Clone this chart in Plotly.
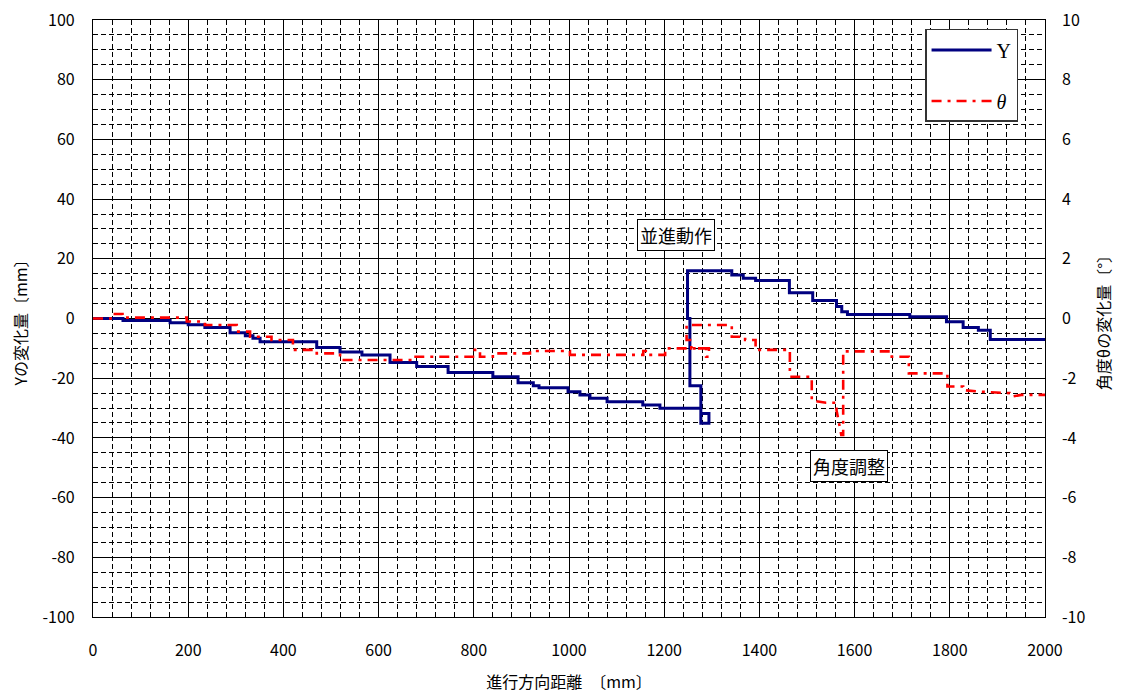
import plotly.graph_objects as go

# ---- data ----
y_dist = [0, 63, 63, 162, 162, 200, 200, 235, 235, 288, 288, 320, 320, 336, 336, 351, 351, 470, 470, 519,
          519, 565, 565, 624, 624, 680, 680, 746, 746, 840, 840, 893, 893, 925, 925, 937, 937, 998, 998, 1023,
          1023, 1044, 1044, 1080, 1080, 1155, 1155, 1191, 1191, 1277, 1277, 1294, 1294, 1277, 1277, 1254, 1254,
          1249, 1249, 1342, 1342, 1366, 1366, 1392, 1392, 1463, 1463, 1512, 1512, 1562, 1562, 1573, 1573, 1585,
          1585, 1716, 1716, 1793, 1793, 1828, 1828, 1860, 1860, 1885, 1885, 2000]
y_val = [0, 0, -0.7, -0.7, -1.4, -1.4, -2.1, -2.1, -3.0, -3.0, -4.8, -4.8, -5.8, -5.8, -6.6, -6.6, -7.8, -7.8,
         -9.7, -9.7, -11.2, -11.2, -12.2, -12.2, -14.7, -14.7, -16.1, -16.1, -18.1, -18.1, -19.5, -19.5, -21.5,
         -21.5, -22.5, -22.5, -23.2, -23.2, -24.5, -24.5, -25.6, -25.6, -26.7, -26.7, -27.9, -27.9, -29.0, -29.0,
         -30.1, -30.1, -35.1, -35.1, -31.8, -31.8, -22.5, -22.5, 0, 0, 16, 16, 14.6, 14.6, 13.5, 13.5, 12.7, 12.7,
         8.6, 8.6, 6.0, 6.0, 4.0, 4.0, 2.3, 2.3, 1.3, 1.3, 0.6, 0.6, -1.1, -1.1, -3.0, -3.0, -3.9, -3.9, -7.0, -7.0]

t_dist = [0, 40, 40, 62, 62, 197, 197, 235, 235, 302, 302, 330, 330, 375, 375, 420, 420, 470, 470, 519,
          519, 672, 672, 802, 802, 813, 813, 840, 840, 918, 918, 1002, 1002, 1156, 1156, 1165, 1165, 1202,
          1202, 1294, 1294, 1288, 1288, 1257, 1257, 1247, 1247, 1342, 1342, 1370, 1370, 1392, 1392, 1464,
          1464, 1510, 1510, 1540, 1562, 1562, 1572, 1576, 1576, 1678, 1678, 1714, 1714, 1795, 1795, 1828,
          1828, 1863, 1926, 1930, 1950, 2000]
t_val = [0, 0, 0.15, 0.15, 0.03, 0.03, -0.1, -0.1, -0.22, -0.22, -0.44, -0.44, -0.61, -0.61, -0.72, -0.72,
         -1.05, -1.05, -1.17, -1.17, -1.39, -1.39, -1.28, -1.28, -1.05, -1.05, -1.28, -1.28, -1.17, -1.17,
         -1.09, -1.09, -1.22, -1.22, -1.09, -1.09, -1.22, -1.22, -1.0, -1.0, -1.28, -1.28, -1.0, -1.0, -0.72,
         -0.72, -0.22, -0.22, -0.61, -0.61, -0.72, -0.72, -1.05, -1.05, -1.95, -1.95, -2.75, -2.82, -2.82,
         -3.07, -3.9, -3.9, -1.1, -1.1, -1.28, -1.28, -1.84, -1.84, -2.28, -2.28, -2.4, -2.45, -2.5, -2.62,
         -2.56, -2.56]

x_ticks = [0, 200, 400, 600, 800, 1000, 1200, 1400, 1600, 1800, 2000]
y_ticks = [100, 80, 60, 40, 20, 0, -20, -40, -60, -80, -100]
y2_ticks = [10, 8, 6, 4, 2, 0, -2, -4, -6, -8, -10]

labels = {"x": "進行方向距離　〔mm〕", "y": "Yの変化量〔mm〕", "y2": "角度θの変化量〔°〕"}
notes = [("並進動作", 1225, 28), ("角度調整", 1588, -49.4)]

JP = "Noto Sans CJK JP"
TICKF = dict(family=JP, size=16, color="black")

fig = go.Figure()
fig.add_trace(go.Scatter(x=y_dist, y=y_val, mode="lines", name="Y", legendgroup="a",
                         line=dict(color="#000080", width=3)))
fig.add_trace(go.Scatter(x=t_dist, y=t_val, mode="lines", name="<i>θ</i>", legendgroup="b", yaxis="y2",
                         line=dict(color="#FF0000", width=2.6, dash="10px,6px,3px,6px")))

for txt, xv, yv in notes:
    fig.add_annotation(x=xv, y=yv, xref="x", yref="y", text=txt, showarrow=False,
                       font=dict(family=JP, size=18, color="black"),
                       bgcolor="white", bordercolor="black", borderwidth=1, borderpad=2)

grid_minor = dict(showgrid=True, gridcolor="black", gridwidth=1, griddash="5px,3px")

# the page body has an 8px default margin, so the figure is sized to fit the window
fig.update_layout(
    width=1114, height=685,
    margin=dict(l=85, r=77, t=12, b=76),
    paper_bgcolor="white", plot_bgcolor="white",
    showlegend=True,
    legend=dict(x=0.874, y=0.985, xanchor="left", yanchor="top", bgcolor="white",
                bordercolor="#333333", borderwidth=1.5, tracegroupgap=22,
                font=dict(family="Liberation Serif", size=20, color="black"),
                itemwidth=60),
    xaxis=dict(range=[0, 2000], tickvals=x_ticks, ticktext=[str(v) for v in x_ticks],
               showgrid=True, gridcolor="black", gridwidth=1.2, zeroline=False, automargin=False,
               showline=True, linecolor="black", linewidth=1.2, mirror=True, ticklabeloverflow="allow",
               ticks="", tickfont=TICKF, ticklabelstandoff=19,
               minor=dict(dtick=40, tick0=0, **grid_minor),
               title=dict(text=labels["x"], font=dict(family=JP, size=16, color="black"), standoff=18)),
    yaxis=dict(range=[-100, 100], tickvals=y_ticks, ticktext=[str(v) for v in y_ticks],
               showgrid=True, gridcolor="black", gridwidth=1.2, zeroline=False, automargin=False,
               showline=True, linecolor="black", linewidth=1.2, mirror=True, ticklabeloverflow="allow",
               ticks="", tickfont=TICKF, ticklabelstandoff=14,
               minor=dict(dtick=5, tick0=0, **grid_minor),
               title=dict(text=labels["y"], font=dict(family=JP, size=16, color="black"), standoff=16)),
    yaxis2=dict(range=[-10, 10], tickvals=y2_ticks, ticktext=[str(v) for v in y2_ticks],
                overlaying="y", side="right", showgrid=False, zeroline=False, automargin=False,
                ticklabeloverflow="allow",
                ticks="", tickfont=TICKF, ticklabelstandoff=16,
                title=dict(text=labels["y2"], font=dict(family=JP, size=16, color="black"), standoff=14)),
)

fig.write_html("out.html")
